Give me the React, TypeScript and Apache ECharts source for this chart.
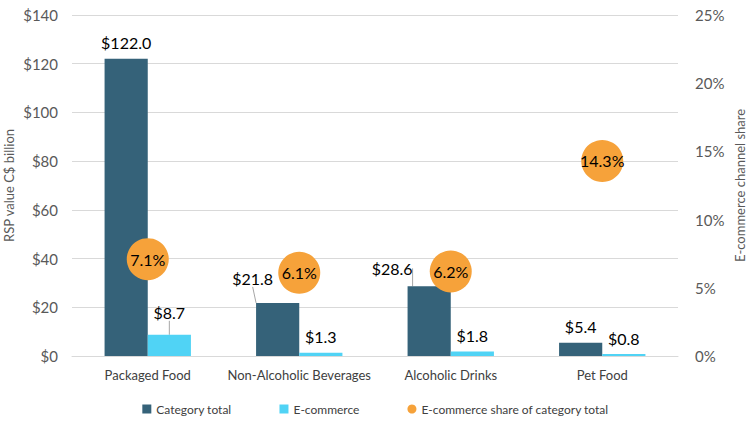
import React, { useEffect, useRef } from "react";
import * as echarts from "echarts";

const categories = ["Packaged Food", "Non-Alcoholic Beverages", "Alcoholic Drinks", "Pet Food"];
const categoryTotal = [122.0, 21.8, 28.6, 5.4];
const ecommerce = [8.7, 1.3, 1.8, 0.8];
const ecomShare = [7.1, 6.1, 6.2, 14.3];

const FONT = "Lato, 'Open Sans', sans-serif";

// which labels were moved by hand (get a leader line)
const totalMoved = [false, true, true, false];
const ecomMoved = [true, false, false, false];

export default function App() {
  const ref = useRef<HTMLDivElement>(null);
  useEffect(() => {
    document.body.style.margin = "0";
    const chart = echarts.init(ref.current!, null, { renderer: "svg" });
    const withLine = (vals: number[], moved: boolean[]) =>
      vals.map((v, i) => ({ value: v, labelLine: { show: moved[i] } }));
    chart.setOption({
      animation: false,
      textStyle: { fontFamily: FONT },
      grid: { left: 72, right: 73, top: 15, bottom: 73, containLabel: false, outerBoundsMode: "none" },
      legend: {
        bottom: 9,
        left: "center",
        itemGap: 48,
        itemWidth: 9,
        itemHeight: 9,
        textStyle: { fontSize: 12, color: "#404040", fontFamily: FONT },
        data: [
          { name: "Category total", icon: "rect" },
          { name: "E-commerce", icon: "rect" },
          { name: "E-commerce share of category total", icon: "circle", itemStyle: { borderWidth: 0 } },
        ],
      },
      xAxis: {
        type: "category",
        data: categories,
        axisTick: { show: false },
        axisLine: { lineStyle: { color: "#D9D9D9" } },
        axisLabel: { interval: 0, fontSize: 13, color: "#404040", margin: 12, fontFamily: FONT },
      },
      yAxis: [
        {
          type: "value",
          min: 0,
          max: 140,
          interval: 20,
          name: "RSP value C$ billion",
          nameLocation: "middle",
          nameGap: 57,
          nameMoveOverlap: false,
          nameTextStyle: { fontSize: 13, color: "#595959", fontFamily: FONT },
          axisLabel: { formatter: "${value}", fontSize: 15, color: "#595959", margin: 14, fontFamily: FONT },
          splitLine: { lineStyle: { color: "#D9D9D9" } },
          axisLine: { show: false },
          axisTick: { show: false },
        },
        {
          type: "value",
          min: 0,
          max: 25,
          interval: 5,
          name: "E-commerce channel share",
          nameLocation: "middle",
          nameGap: 55,
          nameMoveOverlap: false,
          nameRotate: 90,
          nameTextStyle: { fontSize: 13, color: "#595959", fontFamily: FONT },
          axisLabel: { formatter: "{value}%", fontSize: 15, color: "#595959", margin: 17, fontFamily: FONT },
          splitLine: { show: false },
          axisLine: { show: false },
          axisTick: { show: false },
        },
      ],
      series: [
        {
          name: "Category total",
          type: "bar",
          data: withLine(categoryTotal, totalMoved),
          barGap: "0%",
          barCategoryGap: "43%",
          itemStyle: { color: "#356279" },
          label: {
            show: true,
            position: "top",
            distance: 8,
            fontSize: 16,
            color: "#000",
            fontFamily: FONT,
            formatter: (p: any) => "$" + p.value.toFixed(1),
          },
          labelLine: { lineStyle: { color: "#A6A6A6", width: 1 } },
          labelLayout: (p: any) =>
            p.dataIndex === 1 ? { dx: -25, dy: -8 } : p.dataIndex === 2 ? { dx: -37, dy: -2 } : {},
          z: 2,
        },
        {
          name: "E-commerce",
          type: "bar",
          data: withLine(ecommerce, ecomMoved),
          itemStyle: { color: "#50D3F5" },
          label: {
            show: true,
            position: "top",
            distance: 8,
            fontSize: 16,
            color: "#000",
            fontFamily: FONT,
            formatter: (p: any) => "$" + p.value.toFixed(1),
          },
          labelLine: { lineStyle: { color: "#A6A6A6", width: 1 } },
          labelLayout: (p: any) => (p.dataIndex === 0 ? { dy: -6 } : {}),
          z: 2,
        },
        {
          name: "E-commerce share of category total",
          type: "scatter",
          yAxisIndex: 1,
          data: ecomShare,
          symbol: "circle",
          symbolSize: 42,
          itemStyle: { color: "#F6A23A", opacity: 1 },
          label: {
            show: true,
            position: "inside",
            fontSize: 16,
            color: "#000",
            fontFamily: FONT,
            formatter: (p: any) => p.value.toFixed(1) + "%",
          },
          z: 5,
        },
      ],
    });
    return () => chart.dispose();
  }, []);
  return <div ref={ref} style={{ width: 751, height: 429, position: "absolute", left: 0, top: 0 }} />;
}
